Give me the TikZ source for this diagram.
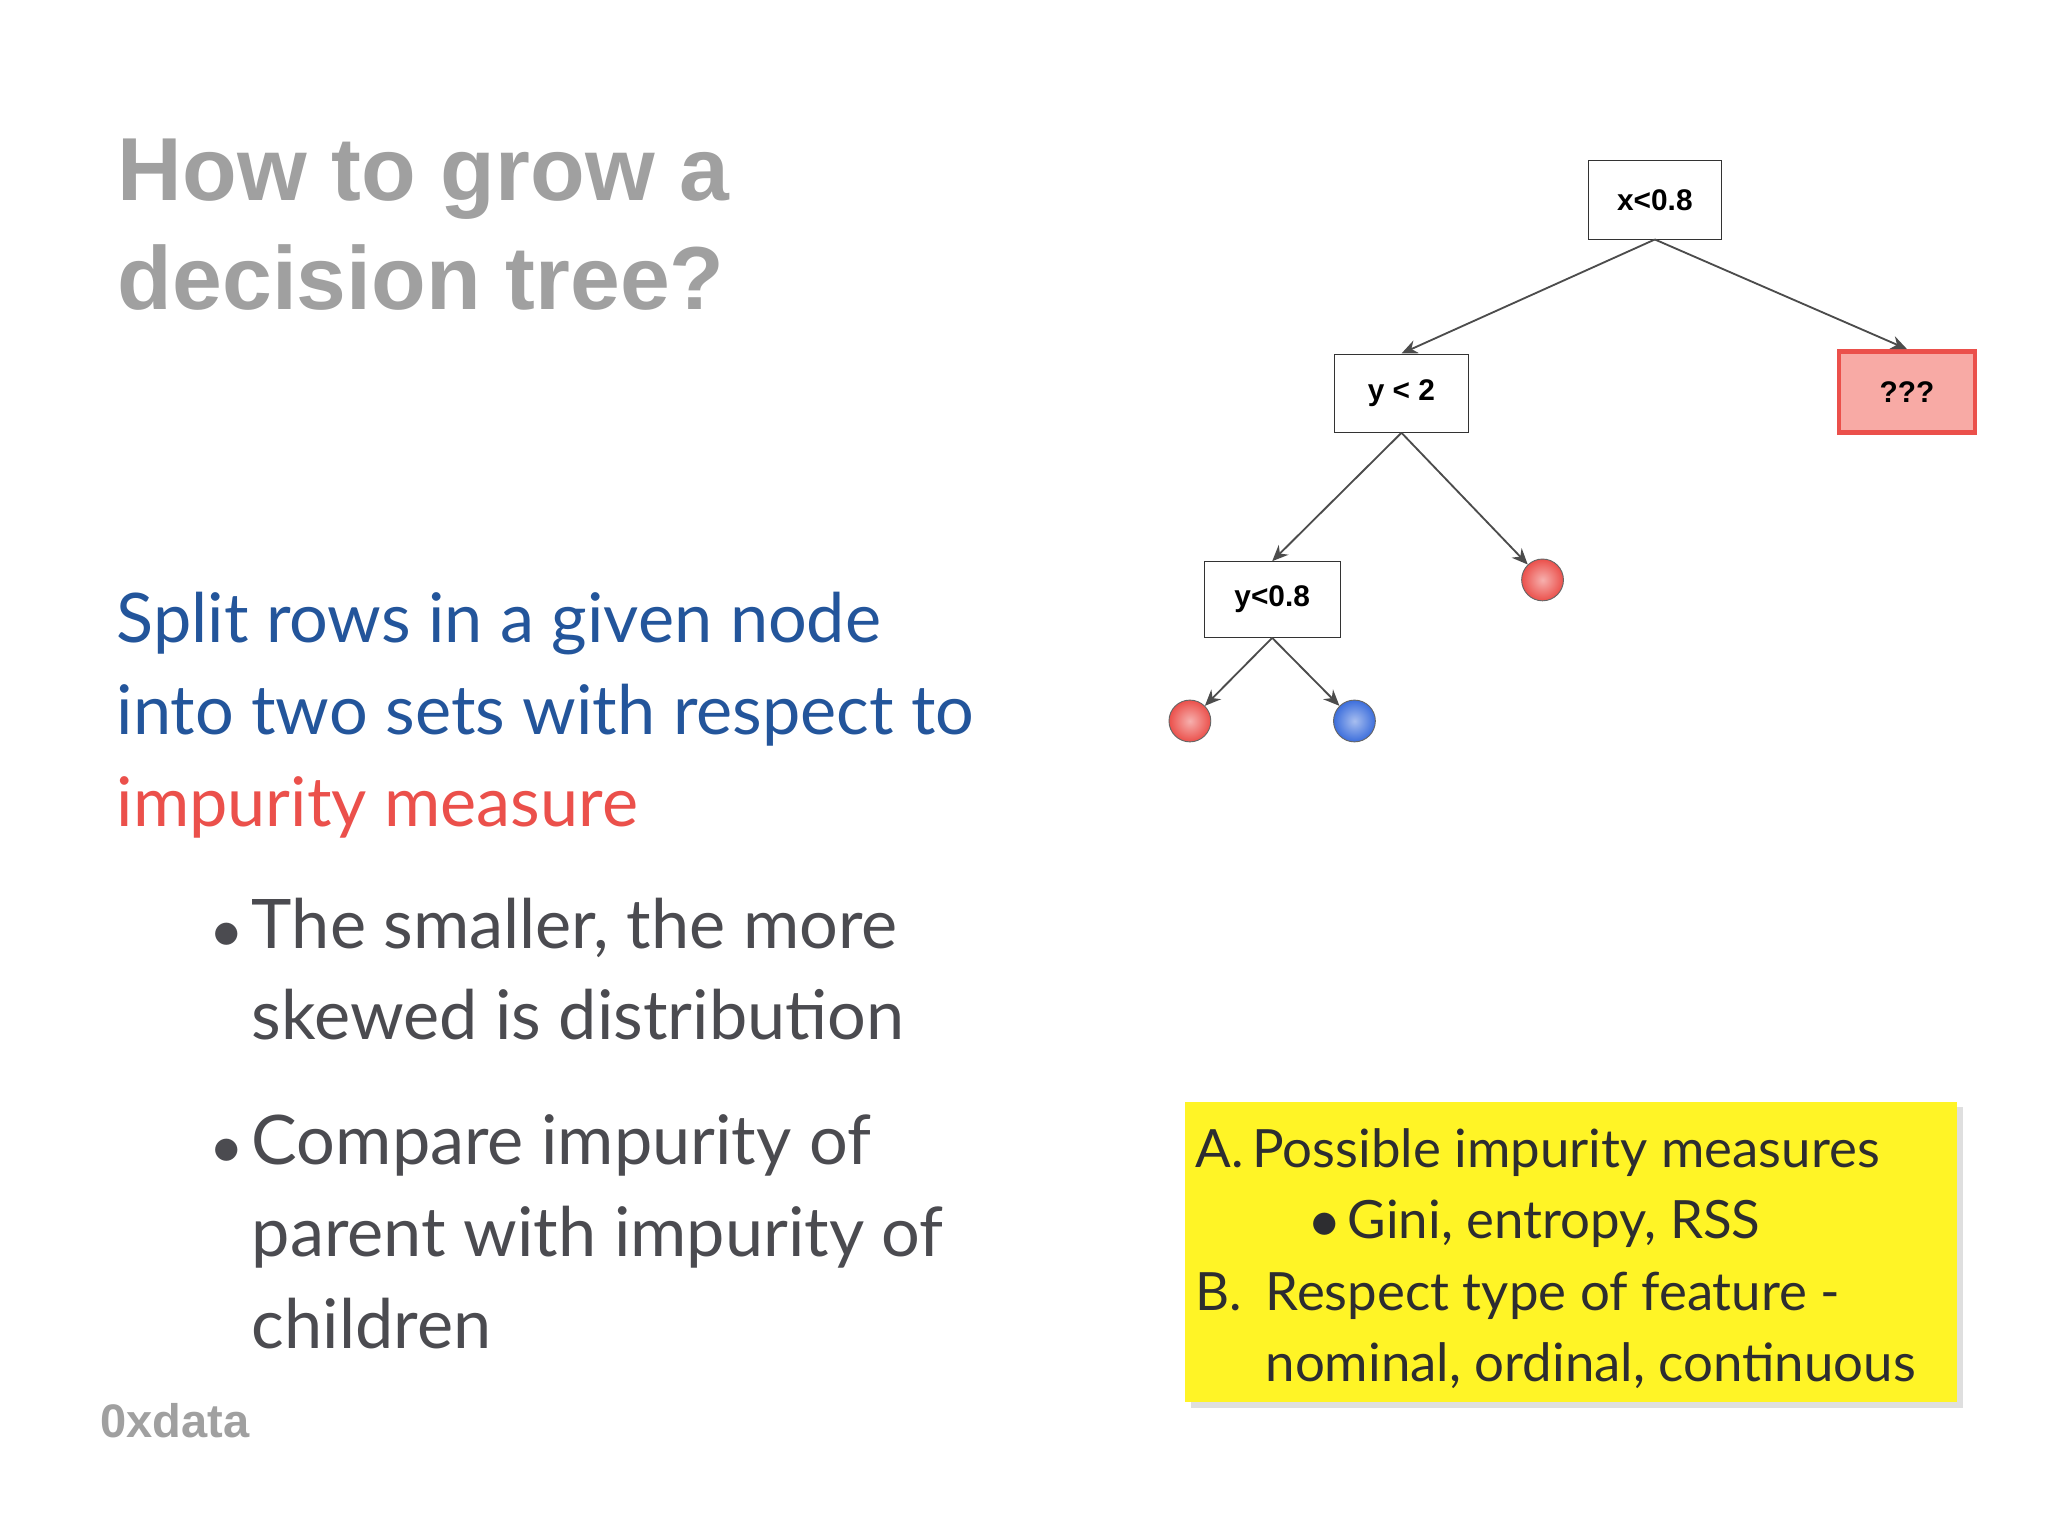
\documentclass[tikz,border=0pt]{standalone}
\usepackage{fontspec}
\setmainfont{Lato}
\newfontfamily\titlefont{Liberation Sans}
\usetikzlibrary{arrows.meta,shadows}
\definecolor{ttl}{RGB}{160,160,160}
\definecolor{bblue}{RGB}{35,85,155}
\definecolor{rred}{RGB}{235,80,75}
\definecolor{bgray}{RGB}{75,75,80}
\definecolor{pinkf}{RGB}{248,170,165}
\definecolor{lblue}{RGB}{60,110,220}
\tikzset{
 tbox/.style={draw=black!80,fill=white,minimum width=102*0.02cm,minimum height=60*0.02cm,inner sep=0pt,font=\titlefont\fontsize{13}{14}\selectfont\bfseries},
 edge/.style={draw=black!70,line width=0.8pt,-{Stealth[length=7pt,width=6pt]}},
 leaf/.style={circle,draw=black!60,minimum size=32*0.02cm,inner sep=0pt,shading=radial},
}
\begin{document}
\begin{tikzpicture}[x=0.02cm,y=-0.02cm]
\useasboundingbox[fill=white] (0,0) rectangle (1568,1176);
\node[anchor=west,align=left,text=ttl,font=\titlefont\bfseries\fontsize{39}{47.5}\selectfont] (title) at (84,172) {How to grow a\\decision tree?};
\node[anchor=north west,align=left,text=bblue,font=\fontsize{29.8}{40}\selectfont,inner sep=0pt] (body) at (89,453) {Split rows in a given node\\into two sets with respect to\\\textcolor{rred}{impurity measure}};
\node[anchor=north west,align=left,text=bgray,font=\fontsize{29.8}{40}\selectfont,inner sep=0pt] (b1) at (162,687) {$\bullet$\,The smaller, the more\\\hphantom{$\bullet$\,}skewed is distribution};
\node[anchor=north west,align=left,text=bgray,font=\fontsize{29.8}{40}\selectfont,inner sep=0pt] (b2) at (162,853) {$\bullet$\,Compare impurity of\\\hphantom{$\bullet$\,}parent with impurity of\\\hphantom{$\bullet$\,}children};
\node[text=ttl,font=\titlefont\bfseries\fontsize{20.5}{21}\selectfont] (logo) at (134,1088) {0xdata};
% tree
\node[tbox] (r) at (1267,153) {x<0.8};
\node[tbox] (a) at (1073,301) {y < 2};
\node[tbox,draw=rred,line width=2pt,fill=pinkf,minimum width=104*0.02cm,minimum height=62*0.02cm] (q) at (1460,300) {???};
\node[tbox,minimum width=104*0.02cm,minimum height=58*0.02cm] (c) at (974,459) {y<0.8};
\node[leaf,inner color=rred!45!white,outer color=rred] (l1) at (1181,444) {};
\node[leaf,inner color=rred!45!white,outer color=rred] (l2) at (911,552) {};
\node[leaf,inner color=lblue!45!white,outer color=lblue] (l3) at (1037,552) {};
\draw[edge] (r.south) -- (a.north);
\draw[edge] (r.south) -- (q.north);
\draw[edge] (a.south) -- (c.north);
\draw[edge] (a.south) -- (l1);
\draw[edge] (c.south) -- (l2);
\draw[edge] (c.south) -- (l3);
% yellow box
\node[anchor=north west,minimum width=591*0.02cm,minimum height=230*0.02cm,fill=yellow!85!white,drop shadow={opacity=0.25},inner sep=0pt] (yb) at (907,843) {};
\node[anchor=north west,align=left,text=bgray!60!black,font=\fontsize{23}{31}\selectfont,inner sep=0pt] (yt) at (915,864) {A.\,Possible impurity measures\\\hspace{1.76cm}$\bullet$\,Gini, entropy, RSS\\B.\,\;Respect type of feature -\\\hphantom{B.\,\;}nominal, ordinal, continuous};
\end{tikzpicture}
\end{document}
